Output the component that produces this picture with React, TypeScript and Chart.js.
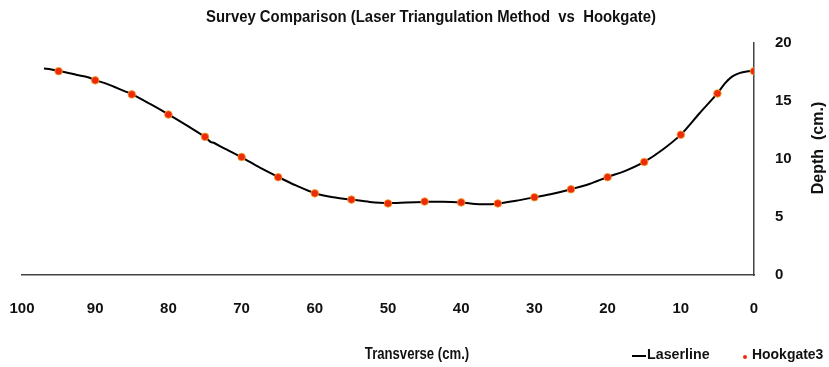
import React, { useEffect, useRef } from "react";
import { Chart, registerables } from "chart.js";

Chart.register(...registerables);

const TITLE = "Survey Comparison (Laser Triangulation Method  vs  Hookgate)";
const X_TITLE = "Transverse (cm.)";
const Y_TITLE = "Depth  (cm.)";
const LASER_LABEL = "Laserline";
const HOOK_LABEL = "Hookgate3";

const hookgateX = [95, 90, 85, 80, 75, 70, 65, 60, 55, 50, 45, 40, 35, 30, 25, 20, 15, 10, 5, 0];
const hookgateDepth = [17.57, 16.78, 15.57, 13.83, 11.91, 10.17, 8.43, 7.04, 6.5, 6.17, 6.33, 6.26, 6.17, 6.7, 7.39, 8.43, 9.74, 12.09, 15.65, 17.57];

const laserX = [97, 96, 95, 93.5, 92.5, 91, 90, 88.5, 87.5, 86, 85, 82.5, 80, 77.5, 75, 74.2, 73.8, 72.5, 70, 67.5, 65, 62.5, 60, 57.5, 55, 52.5, 50, 47.5, 45, 42.5, 40, 37.5, 35, 32.5, 30, 27.5, 25, 22.5, 20, 17.5, 15, 12.5, 10, 7.5, 5, 4, 3, 2, 1, 0];
const laserDepth = [17.8, 17.72, 17.6, 17.4, 17.25, 17.05, 16.8, 16.5, 16.25, 15.85, 15.6, 14.75, 13.85, 12.9, 11.9, 11.45, 11.4, 10.95, 10.15, 9.25, 8.45, 7.7, 7.05, 6.7, 6.5, 6.3, 6.2, 6.25, 6.3, 6.32, 6.25, 6.1, 6.15, 6.4, 6.7, 7.0, 7.4, 7.85, 8.45, 9.0, 9.75, 10.8, 12.1, 13.9, 15.65, 16.5, 17.1, 17.4, 17.55, 17.6];

const FONT = '"Liberation Sans", Arial, sans-serif';
const TEXT_COLOR = "#111111";
const AXIS_COLOR = "#444444";
const POINT_FILL = "#ee2a0c";
const POINT_BORDER = "#f5a623";

function narrowText(ctx: any, text: string, x: number, y: number, sx: number, align: string) {
  ctx.save();
  ctx.translate(x, y);
  ctx.scale(sx, 1);
  ctx.textAlign = align;
  ctx.fillText(text, 0, 0);
  ctx.restore();
}

const textPlugin = {
  id: "customTexts",
  afterDraw(chart: any) {
    const { ctx, chartArea } = chart;
    ctx.save();
    ctx.fillStyle = TEXT_COLOR;
    ctx.textBaseline = "middle";
    // title
    ctx.font = `bold 16px ${FONT}`;
    narrowText(ctx, TITLE, chartArea.left + 409, 18, 0.93, "center");
    // x title
    ctx.font = `bold 16px ${FONT}`;
    narrowText(ctx, X_TITLE, chartArea.left + 395, chartArea.bottom + 80, 0.82, "center");
    // y title (rotated, bottom to top)
    ctx.save();
    ctx.font = `bold 16px ${FONT}`;
    ctx.translate(chartArea.right + 65, chartArea.top + 105);
    ctx.rotate(-Math.PI / 2);
    ctx.textAlign = "center";
    ctx.fillText(Y_TITLE, 0, 0);
    ctx.restore();
    // legend
    ctx.font = `bold 15px ${FONT}`;
    const ly = chartArea.bottom + 81;
    const lx = chartArea.left + 610;
    ctx.strokeStyle = "#000000";
    ctx.lineWidth = 2;
    ctx.beginPath();
    ctx.moveTo(lx, ly);
    ctx.lineTo(lx + 14, ly);
    ctx.stroke();
    narrowText(ctx, LASER_LABEL, lx + 15, ly - 1, 0.95, "left");
    const px = chartArea.left + 723;
    ctx.fillStyle = POINT_FILL;
    ctx.beginPath();
    ctx.arc(px, ly + 1, 2, 0, Math.PI * 2);
    ctx.fill();
    ctx.fillStyle = TEXT_COLOR;
    narrowText(ctx, HOOK_LABEL, px + 7, ly - 1, 0.93, "left");
    ctx.restore();
  },
};

export default function App() {
  const ref = useRef<HTMLCanvasElement | null>(null);
  useEffect(() => {
    if (!ref.current) return;
    const chart = new Chart(ref.current, {
      type: "scatter",
      data: {
        datasets: [
          {
            label: HOOK_LABEL,
            data: hookgateX.map((x, i) => ({ x, y: hookgateDepth[i] })),
            showLine: false,
            pointRadius: 3.8,
            pointBackgroundColor: POINT_FILL,
            pointBorderColor: POINT_BORDER,
            pointBorderWidth: 0.8,
            order: 0,
          },
          {
            label: LASER_LABEL,
            data: laserX.map((x, i) => ({ x, y: laserDepth[i] })),
            showLine: true,
            borderColor: "#000000",
            borderWidth: 2,
            pointRadius: 0,
            tension: 0.3,
            order: 1,
          },
        ],
      },
      options: {
        responsive: false,
        animation: false,
        layout: { padding: { left: 22, top: 43, right: 0, bottom: 0 } },
        plugins: {
          legend: { display: false },
          title: { display: false },
          tooltip: { enabled: false },
        },
        scales: {
          x: {
            type: "linear",
            reverse: true,
            min: 0,
            max: 100,
            grid: { display: false, drawTicks: false },
            border: { display: true, color: AXIS_COLOR, width: 1.5 },
            ticks: {
              stepSize: 10,
              padding: 25,
              color: TEXT_COLOR,
              font: { family: FONT, size: 15, weight: "bold" },
              maxRotation: 0,
            },
            afterFit: (s: any) => {
              s.height = 92;
              s.paddingLeft = 0;
              s.paddingRight = 0;
            },
          },
          y: {
            type: "linear",
            position: "right",
            min: 0,
            max: 20,
            grid: { display: false, drawTicks: false },
            border: { display: true, color: AXIS_COLOR, width: 1.5 },
            ticks: {
              stepSize: 5,
              padding: 21,
              color: TEXT_COLOR,
              font: { family: FONT, size: 15, weight: "bold" },
            },
            afterFit: (s: any) => {
              s.width = 75;
              s.paddingTop = 0;
              s.paddingBottom = 0;
            },
          },
        },
      },
      plugins: [textPlugin],
    } as any);
    return () => chart.destroy();
  }, []);
  return (
    <div style={{ position: "fixed", left: 0, top: 0, width: 829, height: 367, background: "#ffffff" }}>
      <canvas ref={ref} width={829} height={367} style={{ width: 829, height: 367, display: "block" }} />
    </div>
  );
}
